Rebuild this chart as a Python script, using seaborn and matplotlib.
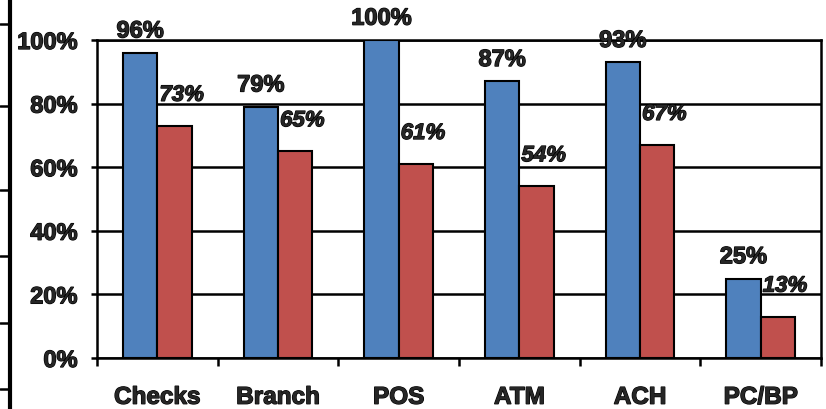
import pandas as pd
import numpy as np
import matplotlib
matplotlib.use('Agg')
import matplotlib.pyplot as plt
import matplotlib.patheffects as pe
import seaborn as sns
from matplotlib.lines import Line2D

# data
channels = ['Checks', 'Branch', 'POS', 'ATM', 'ACH', 'PC/BP']
series_a = [0.96, 0.79, 1.00, 0.87, 0.93, 0.25]
series_b = [0.73, 0.65, 0.61, 0.54, 0.67, 0.13]
series_names = ['A', 'B']
colors = ['#4F81BD', '#C0504D']
y_ticks = [0, 0.2, 0.4, 0.6, 0.8, 1.0]

sns.set_style('white')
plt.rcParams['font.family'] = ['Liberation Sans', 'DejaVu Sans']
plt.rcParams['font.weight'] = 'bold'

# thicker strokes so the text looks as heavy as the original
heavy = [pe.withStroke(linewidth=0.9, foreground='black')]

df = pd.DataFrame({
    'channel': channels * 2,
    'value': series_a + series_b,
    'series': [series_names[0]] * len(channels) + [series_names[1]] * len(channels),
})

W, H = 826, 409
fig = plt.figure(figsize=(W / 100, H / 100), dpi=100)
ax = fig.add_axes([97 / W, 1 - 358 / H, (821 - 97) / W, (358 - 40) / H])

sns.barplot(data=df, x='channel', y='value', hue='series', order=channels,
            hue_order=series_names, palette=colors, width=0.57,
            edgecolor='black', linewidth=1.5, saturation=1, ax=ax, zorder=3)
ax.legend_.remove()

ax.set_ylim(0, 1)
ax.set_xlim(-0.5, len(channels) - 0.5)
ax.set_yticks(y_ticks)
ax.set_yticklabels([f'{int(round(t * 100))}%' for t in y_ticks])
ax.yaxis.grid(True, color='black', linewidth=1.8, zorder=0)
ax.set_axisbelow(True)
ax.set_xlabel('')
ax.set_ylabel('')

# category labels centred, ticks on the boundaries
ax.set_xticks(np.arange(len(channels)))
ax.set_xticklabels(channels)
ax.set_xticks(np.arange(len(channels) + 1) - 0.5, minor=True)
ax.tick_params(axis='x', which='major', length=0, pad=20, labelsize=17.5)
ax.tick_params(axis='x', which='minor', length=6, width=1.8, color='black',
               direction='out', bottom=True)
ax.tick_params(axis='y', length=4, width=1.8, color='black', pad=10,
               labelsize=17, left=True)
for lab in ax.get_xticklabels() + ax.get_yticklabels():
    lab.set_fontweight('bold')
    lab.set_path_effects(heavy)

for sp in ax.spines.values():
    sp.set_color('black')
    sp.set_linewidth(1.8)

# value labels
blue_bars, red_bars = ax.containers[0], ax.containers[1]
for bar, v in zip(blue_bars, series_a):
    ax.annotate(f'{int(round(v * 100))}%',
                (bar.get_x() + bar.get_width() / 2, bar.get_height()),
                xytext=(0, 11), textcoords='offset points',
                ha='center', va='baseline', fontsize=17, fontweight='bold',
                annotation_clip=False, path_effects=heavy)
for bar, v in zip(red_bars, series_b):
    ax.annotate(f'{int(round(v * 100))}%',
                (bar.get_x(), bar.get_height()),
                xytext=(1.5, 18), textcoords='offset points',
                ha='left', va='baseline', fontsize=16, fontweight='bold',
                fontstyle='italic', annotation_clip=False, zorder=5,
                path_effects=heavy)

# piece of a neighbouring axis at the left edge
fig.add_artist(Line2D([10 / W, 10 / W], [0, 1], transform=fig.transFigure,
                      color='black', linewidth=3))
for yy in [24, 106, 190, 256, 323, 389]:
    fig.add_artist(Line2D([0, 10 / W], [1 - yy / H, 1 - yy / H],
                          transform=fig.transFigure, color='black', linewidth=1.8))

fig.savefig('out.png', dpi=100)
